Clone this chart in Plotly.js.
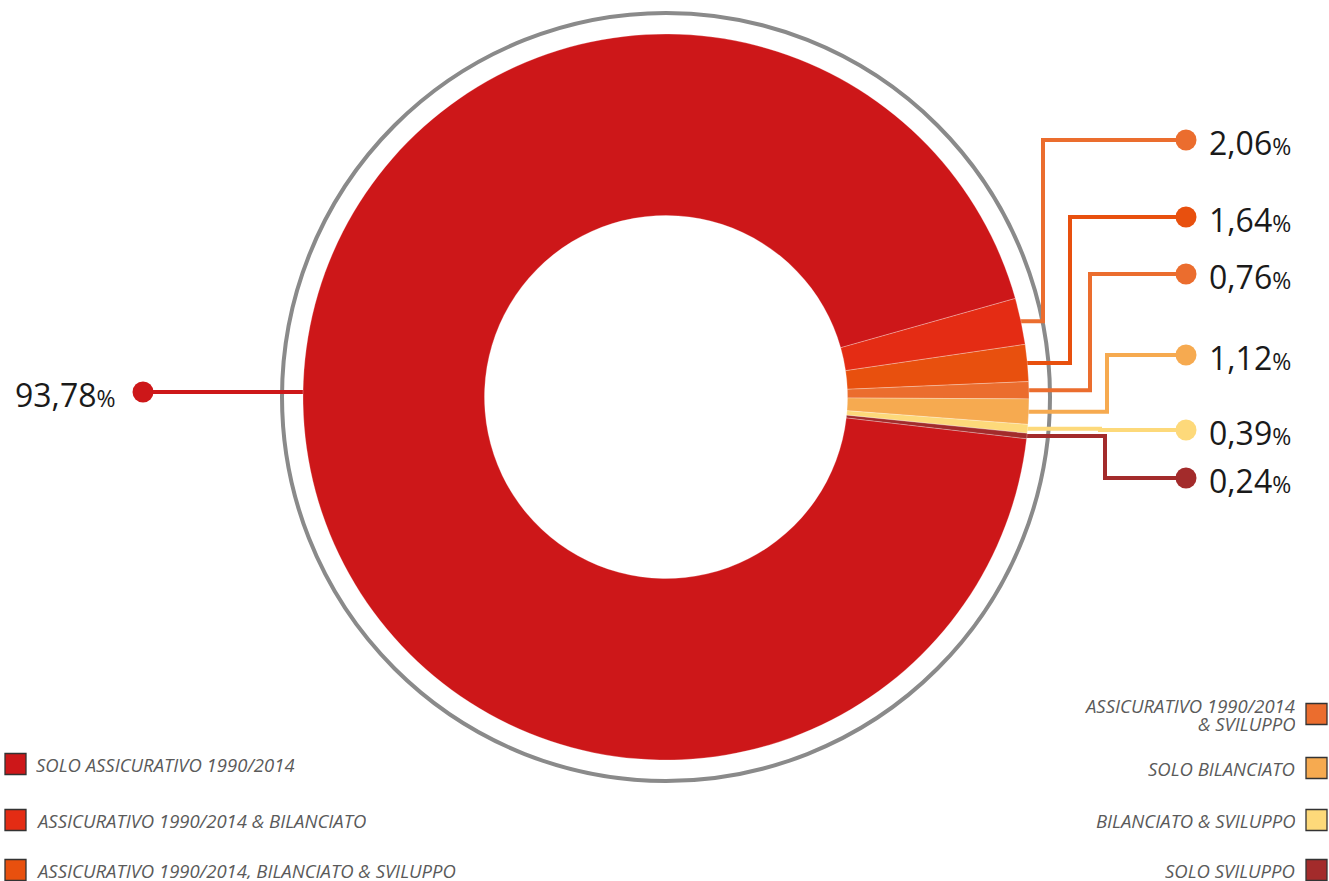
<!DOCTYPE html>
<html>
<head>
<meta charset="utf-8">
<script src="https://cdn.plot.ly/plotly-3.0.1.min.js"></script>
<style>html,body{margin:0;padding:0;background:#fff;}#chart{width:1329px;height:881px;}</style>
</head>
<body>
<div id="chart"></div>
<script>
// ---- data ----
const categories = [
  'SOLO ASSICURATIVO 1990/2014',
  'ASSICURATIVO 1990/2014 & BILANCIATO',
  'ASSICURATIVO 1990/2014, BILANCIATO & SVILUPPO',
  'ASSICURATIVO 1990/2014 & SVILUPPO',
  'SOLO BILANCIATO',
  'BILANCIATO & SVILUPPO',
  'SOLO SVILUPPO'
];
const values = [93.78, 2.06, 1.64, 0.76, 1.12, 0.39, 0.24];
const valueLabels = ['93,78', '2,06', '1,64', '0,76', '1,12', '0,39', '0,24'];
const legendLines = [
  ['SOLO ASSICURATIVO 1990/2014'],
  ['ASSICURATIVO 1990/2014 & BILANCIATO'],
  ['ASSICURATIVO 1990/2014, BILANCIATO & SVILUPPO'],
  ['ASSICURATIVO 1990/2014', '& SVILUPPO'],
  ['SOLO BILANCIATO'],
  ['BILANCIATO & SVILUPPO'],
  ['SOLO SVILUPPO']
];

// ---- styles / layout ----
const sliceColors = ['#CD1719', '#E42C14', '#E8500E', '#EB6D2E', '#F6AA50', '#FDD97A', '#A32B2B'];
const connectorColors = ['#CD1719', '#EB6D2E', '#E8500E', '#EB6D2E', '#F6AA50', '#FDD97A', '#A32B2B'];
const W = 1329, H = 881;
const cx = 666, cy = 397, R = 363, ringR = 384;
const rotation = 96.6;
const labelY = [392, 140, 217, 274, 355, 430, 478];
const elbowX = [null, 1043, 1070, 1090, 1107, 1100, 1105];
const dotXRight = 1186, dotXLeft = 143;
const legendSide = ['L', 'L', 'L', 'R', 'R', 'R', 'R'];
const legendY = [764, 820, 870, 714, 768, 820, 870];

const traces = [];
const shapes = [];
const annotations = [];

// pie
traces.push({
  type: 'pie',
  labels: categories,
  values: values,
  sort: false,
  direction: 'clockwise',
  rotation: rotation,
  hole: 0.5,
  textinfo: 'none',
  hoverinfo: 'label+percent',
  showlegend: false,
  marker: {colors: sliceColors, line: {color: 'rgba(255,255,255,0.45)', width: 0.6}},
  domain: {x: [(cx - R) / W, (cx + R) / W], y: [1 - (cy + R) / H, 1 - (cy - R) / H]}
});

// outer ring
shapes.push({type: 'circle', xref: 'x', yref: 'y', x0: cx - ringR, x1: cx + ringR, y0: cy - ringR, y1: cy + ringR,
  line: {color: '#8A8A8A', width: 4}, layer: 'below'});

// connectors, dots and value labels
const total = values.reduce((a, b) => a + b, 0);
let cum = 0;
values.forEach((v, i) => {
  const startDeg = rotation + cum / total * 360;
  const midDeg = startDeg + v / total * 180;
  cum += v;
  const a = midDeg * Math.PI / 180;
  let xs, ys, dotX;
  let px, py;
  if (i === 0) {
    ys = labelY[0];
    xs = cx - Math.sqrt(R * R - (ys - cy) * (ys - cy)) + 2;
    dotX = dotXLeft;
    px = [xs, dotX];
    py = [ys, ys];
  } else {
    xs = cx + R * Math.sin(a) - 3;
    ys = cy - R * Math.cos(a);
    dotX = dotXRight;
    px = [xs, elbowX[i], elbowX[i], dotX];
    py = [ys, ys, labelY[i], labelY[i]];
  }
  traces.push({type: 'scatter', mode: 'lines', x: px, y: py, hoverinfo: 'skip', showlegend: false,
    line: {color: connectorColors[i], width: 4}});
  traces.push({type: 'scatter', mode: 'markers', x: [dotX], y: [labelY[i]], hoverinfo: 'skip', showlegend: false,
    marker: {color: connectorColors[i], size: 21, line: {width: 0}}});
  annotations.push({
    xref: 'x', yref: 'y',
    x: i === 0 ? 117 : 1207, y: labelY[i] + 2,
    xanchor: i === 0 ? 'right' : 'left', yanchor: 'middle',
    showarrow: false,
    text: valueLabels[i] + '<span style="font-size:23px">%</span>',
    font: {family: 'Open Sans', size: 32, color: '#1a1a1a'}
  });
});

// legend
categories.forEach((c, i) => {
  const left = legendSide[i] === 'L';
  const sx = left ? 15.5 : 1316.5;
  traces.push({type: 'scatter', mode: 'markers', x: [sx], y: [legendY[i]], hoverinfo: 'skip', showlegend: false,
    marker: {symbol: 'square', size: 21, color: sliceColors[i], line: {color: '#333', width: 1.3}}});
  const lines = legendLines[i];
  const lh = 18;
  lines.forEach((t, k) => {
    annotations.push({
      xref: 'x', yref: 'y',
      x: left ? 34 : 1297, y: legendY[i] + (k - (lines.length - 1) / 2) * lh,
      xanchor: left ? 'left' : 'right', yanchor: 'middle',
      height: 18,
      showarrow: false, text: t,
      font: {family: 'Open Sans', size: 18.5, color: '#5a5a5a', style: 'italic'}
    });
  });
});

const layout = {
  width: W, height: H,
  margin: {l: 0, r: 0, t: 0, b: 0},
  paper_bgcolor: '#fff', plot_bgcolor: '#fff',
  showlegend: false,
  xaxis: {range: [0, W], visible: false, fixedrange: true},
  yaxis: {range: [H, 0], visible: false, fixedrange: true},
  shapes: shapes,
  annotations: annotations
};

Plotly.newPlot('chart', traces, layout, {displayModeBar: false, staticPlot: true});
</script>
</body>
</html>
